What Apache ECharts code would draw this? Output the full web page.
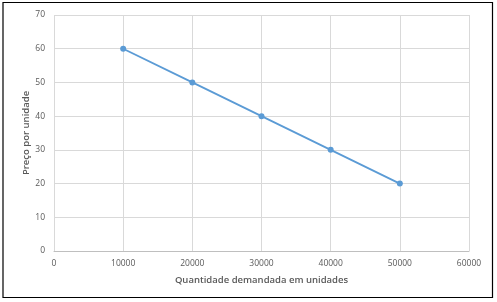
<!DOCTYPE html>
<html><head><meta charset="utf-8">
<script src="https://cdn.jsdelivr.net/npm/echarts@6/dist/echarts.min.js"></script>
<style>html,body{margin:0;padding:0;background:#fff}#c{width:497px;height:302px}</style>
</head><body><div id="c"></div>
<script>
const quantities = [10000, 20000, 30000, 40000, 50000];
const prices = [60, 50, 40, 30, 20];
const xTitle = 'Quantidade demandada em unidades';
const yTitle = 'Preço por unidade';

const chart = echarts.init(document.getElementById('c'), null, {renderer: 'canvas'});
const font = 'Open Sans';
chart.setOption({
  animation: false,
  grid: {left: 54, right: 28, top: 15, bottom: 51, containLabel: false},
  xAxis: {
    type: 'value', min: 0, max: 60000, interval: 10000,
    name: xTitle, nameLocation: 'middle', nameGap: 24, nameMoveOverlap: false,
    nameTextStyle: {color: '#595959', fontFamily: font, fontSize: 9.5, fontWeight: 600},
    axisLine: {show: true, lineStyle: {color: '#bfbfbf', width: 1}},
    axisTick: {show: false},
    axisLabel: {color: '#595959', fontFamily: font, fontSize: 8.5, margin: 8, formatter: v => String(v)},
    splitLine: {show: true, lineStyle: {color: '#d9d9d9', width: 1}}
  },
  yAxis: {
    type: 'value', min: 0, max: 70, interval: 10,
    name: yTitle, nameLocation: 'middle', nameGap: 23, nameRotate: 90, nameMoveOverlap: false,
    nameTextStyle: {color: '#595959', fontFamily: font, fontSize: 9.5, fontWeight: 600},
    axisLine: {show: false},
    axisTick: {show: false},
    axisLabel: {color: '#595959', fontFamily: font, fontSize: 8.5, margin: 9},
    splitLine: {show: true, lineStyle: {color: '#d9d9d9', width: 1}}
  },
  series: [{
    type: 'line',
    data: quantities.map((q, i) => [q, prices[i]]),
    lineStyle: {color: '#5b9bd5', width: 1.8},
    itemStyle: {color: '#5b9bd5'},
    symbol: 'circle', symbolSize: 6,
    showSymbol: true
  }],
  graphic: [{
    type: 'rect', shape: {x: 3, y: 2.5, width: 489.5, height: 295},
    style: {fill: 'none', stroke: '#000', lineWidth: 1.2}, silent: true
  }]
});
</script></body></html>
